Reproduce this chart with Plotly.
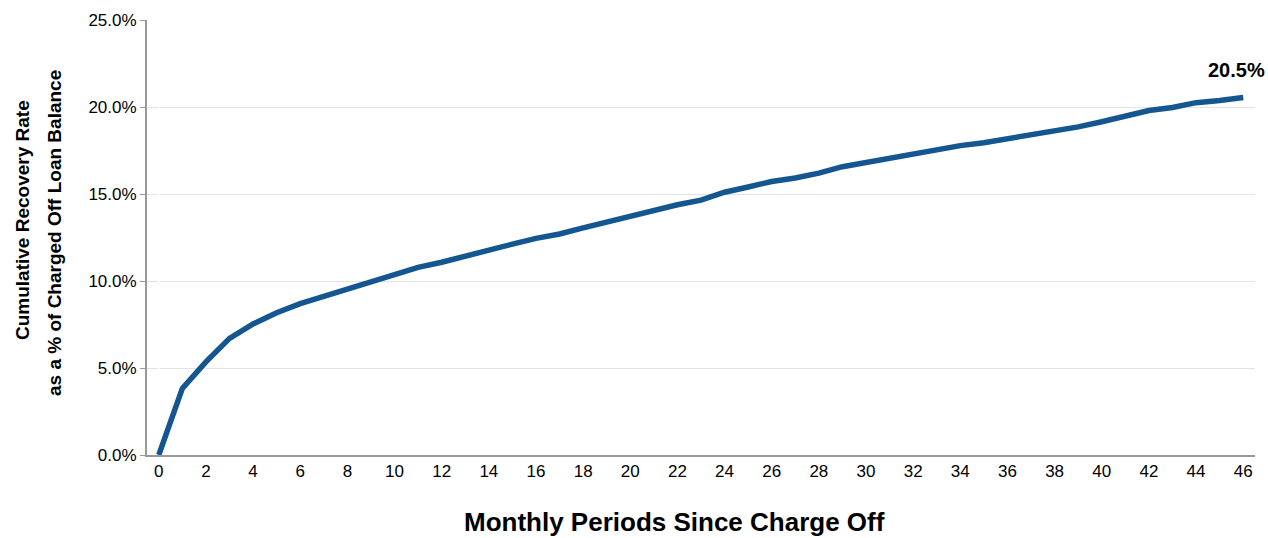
import plotly.graph_objects as go

months = list(range(47))
recovery_pct = [
    0.0, 3.83, 5.35, 6.7, 7.53, 8.18, 8.7, 9.12, 9.55, 9.95,
    10.42, 10.78, 11.08, 11.4, 11.75, 12.12, 12.45, 12.7, 13.05, 13.38,
    13.72, 14.08, 14.38, 14.65, 15.1, 15.4, 15.72, 15.92, 16.2, 16.57,
    16.82, 17.05, 17.32, 17.56, 17.78, 17.95, 18.18, 18.4, 18.6, 18.86,
    19.15, 19.47, 19.8, 19.97, 20.25, 20.37, 20.55,
]
x_ticks = list(range(0, 47, 2))
y_ticks = [0, 5, 10, 15, 20, 25]
final_label = "20.5%"
y_title_lines = ["Cumulative Recovery Rate", "as a % of Charged Off Loan Balance"]
x_title = "Monthly Periods Since Charge Off"

font = "Liberation Sans, Arial, sans-serif"

fig = go.Figure()
fig.add_trace(go.Scatter(
    x=months, y=recovery_pct, mode="lines",
    line=dict(color="#14568f", width=5.5),
    hoverinfo="skip", showlegend=False,
))

# end label
fig.add_annotation(
    x=months[-1], y=recovery_pct[-1], text=f"<b>{final_label}</b>",
    showarrow=False, yshift=27, xshift=-7,
    font=dict(family=font, size=20, color="#000000"),
)

# y title as two rotated lines (wider line gap than plotly's title)
for text, xs, ypix in zip(y_title_lines, [-125, -93], [220, 233]):
    fig.add_annotation(
        xref="paper", yref="paper", x=0, y=(455 - ypix) / 435,
        xshift=xs, text=f"<b>{text}</b>", textangle=-90, showarrow=False,
        xanchor="center", yanchor="middle",
        font=dict(family=font, size=19, color="#000000"),
    )

fig.add_annotation(
    xref="paper", yref="paper", x=(674.5 - 147) / 1108, y=(455 - 522) / 435,
    text=f"<b>{x_title}</b>", showarrow=False,
    xanchor="center", yanchor="middle",
    font=dict(family=font, size=26, color="#000000"),
)

fig.update_layout(
    width=1268, height=538,
    margin=dict(l=147, r=13, t=20, b=83),
    plot_bgcolor="white", paper_bgcolor="white",
    font=dict(family=font, size=17, color="#000000"),
    xaxis=dict(
        range=[-0.5, 46.5], tickvals=x_ticks, showgrid=False,
        showline=True, linecolor="#999999", linewidth=2,
        ticks="", tickfont=dict(size=17),
    ),
    yaxis=dict(
        range=[0, 25], tickvals=y_ticks,
        ticktext=[f"{v:.1f}%" for v in y_ticks],
        showgrid=True, gridcolor="#e3e3e3", gridwidth=1,
        showline=True, linecolor="#999999", linewidth=2,
        ticks="outside", ticklen=5, tickcolor="#999999",
        tickfont=dict(size=17), zeroline=False,
    ),
)

fig.write_html("out.html", config={"displayModeBar": False},
               post_script="document.body.style.margin='0';")
